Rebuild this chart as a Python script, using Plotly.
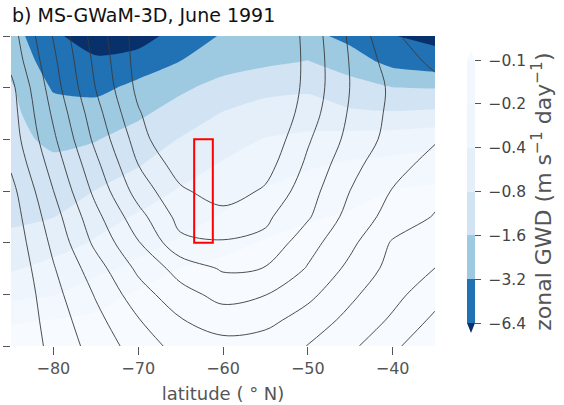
import numpy as np
import plotly.graph_objects as go

# Grid: latitude (deg N) and vertical level index (7 ticks, labels hidden)
lat = [-85, -80, -75, -70, -65, -60, -55, -50, -45, -40, -35]
lev = [0, 0.5, 1, 1.5, 2, 2.5, 3, 3.5, 4, 4.5, 5, 5.5, 6]

# Zonal gravity-wave drag (m s-1 day-1), rows from bottom (lev 0) to top (lev 6)
gwd = [
    [-0.0758, -0.0707, -0.0637, -0.0574, -0.0518, -0.0483, -0.0467, -0.0451, -0.0451, -0.0451, -0.0451],
    [-0.107, -0.098, -0.0871, -0.0732, -0.0637, -0.0574, -0.0536, -0.0500, -0.0500, -0.0500, -0.0500],
    [-0.246, -0.207, -0.137, -0.0901, -0.0758, -0.0660, -0.0616, -0.0574, -0.0555, -0.0536, -0.0536],
    [-0.429, -0.325, -0.238, -0.168, -0.099, -0.0812, -0.0707, -0.0660, -0.0616, -0.0595, -0.0574],
    [-0.696, -0.528, -0.373, -0.255, -0.180, -0.127, -0.0933, -0.0812, -0.0732, -0.0683, -0.0660],
    [-0.888, -0.810, -0.528, -0.373, -0.273, -0.187, -0.146, -0.107, -0.0933, -0.0841, -0.0785],
    [-1.09, -0.951, -0.790, -0.566, -0.373, -0.264, -0.187, -0.152, -0.123, -0.099, -0.0871],
    [-1.13, -1.30, -1.13, -0.828, -0.546, -0.373, -0.283, -0.214, -0.180, -0.162, -0.152],
    [-1.21, -1.97, -1.66, -1.13, -0.773, -0.528, -0.386, -0.325, -0.303, -0.283, -0.246],
    [-1.39, -2.43, -2.26, -1.84, -1.13, -0.773, -0.650, -0.650, -0.721, -0.746, -0.696],
    [-1.49, -3.43, -3.94, -2.60, -1.84, -1.21, -0.919, -0.857, -1.21, -1.58, -1.65],
    [-1.97, -4.53, -5.57, -4.85, -3.15, -2.26, -1.84, -1.55, -2.26, -3.94, -4.85],
    [-2.43, -5.57, -9.70, -8.45, -4.85, -2.99, -2.26, -2.60, -3.94, -6.27, -7.61],
]

# Zonal-mean wind (m s-1), drawn as thin contour lines every 10 m s-1
wind = [
    [-8.8, 2.7, 14.1, 24.4, 33.9, 36.6, 35.0, 29.8, 22.1, 12.3, 1.6],
    [-9.2, 4.5, 17.1, 29.4, 39.4, 44.9, 43.0, 35.5, 27.3, 18.5, 7.9],
    [-9.4, 6.6, 20.9, 35.5, 46.6, 53.2, 50.3, 42.7, 32.0, 23.1, 13.9],
    [-8.5, 9.2, 25.6, 42.1, 54.0, 61.1, 59.8, 49.2, 37.5, 26.7, 19.9],
    [-7.0, 12.3, 32.4, 49.3, 67.6, 69.2, 67.5, 53.9, 42.4, 29.0, 24.5],
    [-5.3, 15.7, 37.1, 56.3, 73.5, 76.3, 71.9, 61.2, 46.3, 36.2, 29.3],
    [-3.1, 19.9, 42.8, 64.2, 78.4, 85.0, 78.6, 64.3, 49.9, 39.5, 33.0],
    [1.3, 24.1, 47.5, 69.9, 85.0, 88.0, 84.0, 67.9, 53.1, 43.1, 36.8],
    [4.6, 28.2, 52.6, 74.5, 94.0, 90.0, 88.2, 71.2, 56.9, 46.4, 40.8],
    [5.9, 31.7, 56.2, 79.0, 92.0, 92.0, 91.8, 74.8, 58.7, 47.5, 42.0],
    [7.3, 35.3, 60.3, 82.5, 89.0, 93.0, 93.7, 76.8, 59.8, 48.0, 43.0],
    [12.7, 37.8, 62.5, 83.8, 90.0, 94.0, 94.6, 77.1, 59.4, 45.2, 38.0],
    [15.6, 40.6, 64.7, 84.3, 90.0, 94.0, 95.0, 76.5, 58.3, 41.0, 36.0],
]

# Colour levels of the drag (log-spaced) and their tick labels
gwd_levels = [-0.1, -0.2, -0.4, -0.8, -1.6, -3.2, -6.4]
gwd_ticktext = ["\u22120.1", "\u22120.2", "\u22120.4", "\u22120.8", "\u22121.6", "\u22123.2", "\u22126.4"]

# Box marking the sampled region
box_lat = [-63.4, -61.2]
box_lev = [2, 4]

xticks = [-80, -70, -60, -50, -40]
xticktext = ["\u221280", "\u221270", "\u221260", "\u221250", "\u221240"]

# Band colours (Blues, from strongest drag to weakest; both ends extended)
band_colors = ["#08306b", "#2171b5", "#9ecae1", "#d2e3f3",
               "#e4eff9", "#eef5fc", "#f2f8fd", "#f7fbff"]


def to_index(v):
    """Map drag onto equally spaced level index: -6.4 -> -6, -0.1 -> 0."""
    return -np.log2(np.abs(np.asarray(v, dtype=float)) / 0.1)


z_idx = to_index(gwd)
tick_idx = list(to_index(gwd_levels))

# Step colorscale for the filled contours: band k sits at k/7 of [-6.5, 0.5]
nb = len(band_colors)
fill_scale = []
for k, c in enumerate(band_colors):
    lo = max(0.0, (k - 0.5) / (nb - 1))
    hi = min(1.0, (k + 0.5) / (nb - 1))
    fill_scale += [[lo, c], [hi, c]]

# Step colorscale for the colour bar (inner six bands only)
bar_scale = []
for j in range(6):
    c = band_colors[j + 1]
    bar_scale += [[j / 6, c], [(j + 1) / 6, c]]

W, H = 564, 405
ml, mr, mt, mb = 11, 129, 36, 59
pw, ph = W - ml - mr, H - mt - mb

cb_x = (467 - ml) / pw
cb_thick = 8
cb_len = 263 / ph
cb_y = 0.498
tri_h = 10 / ph

fig = go.Figure()

fig.add_trace(go.Contour(
    x=lat, y=lev, z=z_idx,
    autocontour=False,
    contours=dict(start=-6, end=0, size=1, coloring="fill", showlines=False),
    colorscale=fill_scale,
    line=dict(width=0, smoothing=0.6),
    showscale=False,
    hoverinfo="skip",
))

fig.add_trace(go.Contour(
    x=lat, y=lev, z=wind,
    autocontour=False,
    contours=dict(start=0, end=80, size=10, coloring="none"),
    line=dict(color="#3a3a3a", width=0.9, smoothing=1.0),
    showscale=False,
    hoverinfo="skip",
))

# Colour bar carrier (point lies outside the plotted range)
fig.add_trace(go.Scatter(
    x=[-200], y=[-50], mode="markers",
    marker=dict(
        color=[-3], cmin=-6, cmax=0, colorscale=bar_scale, size=1,
        showscale=True,
        colorbar=dict(
            x=cb_x, xanchor="left", xpad=0, ypad=0,
            y=cb_y, yanchor="middle", len=cb_len, lenmode="fraction",
            thickness=cb_thick, thicknessmode="pixels", outlinewidth=0,
            tickvals=tick_idx, ticktext=[" " + t for t in gwd_ticktext],
            ticks="outside", ticklen=6, tickwidth=1.2, tickcolor="#555555",
            tickfont=dict(family="DejaVu Sans", size=15.5, color="#444444"),
            title=dict(text="zonal GWD (m s<sup>\u22121</sup> day<sup>\u22121</sup>)",
                       side="right",
                       font=dict(family="DejaVu Sans", size=22, color="#555555")),
        ),
    ),
    hoverinfo="skip", showlegend=False,
))

# Extension triangles at both ends of the colour bar
x0b, x1b = cb_x, cb_x + cb_thick / pw
xm = 0.5 * (x0b + x1b)
yb = cb_y - cb_len / 2
yt = cb_y + cb_len / 2
shapes = [
    dict(type="path", xref="paper", yref="paper",
         path=f"M {x0b},{yb} L {x1b},{yb} L {xm},{yb - tri_h} Z",
         fillcolor=band_colors[0], line=dict(width=0)),
    dict(type="path", xref="paper", yref="paper",
         path=f"M {x0b},{yt} L {x1b},{yt} L {xm},{yt + tri_h} Z",
         fillcolor=band_colors[-1], line=dict(width=0)),
    dict(type="rect", xref="x", yref="y",
         x0=box_lat[0], x1=box_lat[1], y0=box_lev[0], y1=box_lev[1],
         line=dict(color="#ff0000", width=2), fillcolor="rgba(0,0,0,0)"),
]

fig.update_layout(
    width=W, height=H,
    margin=dict(l=ml, r=mr, t=mt, b=mb, autoexpand=False),
    paper_bgcolor="white", plot_bgcolor="white",
    font=dict(family="DejaVu Sans", color="#555555"),
    title=dict(text="b) MS-GWaM-3D, June 1991", xref="container", x=12 / W,
               xanchor="left", yref="container", y=1 - 15 / H, yanchor="middle",
               font=dict(family="DejaVu Sans", size=19, color="#111111")),
    shapes=shapes,
    showlegend=False,
)

fig.update_xaxes(
    range=[-85, -35], tickvals=xticks, ticktext=xticktext,
    ticks="outside", ticklen=8, tickwidth=1.2, tickcolor="#555555",
    tickfont=dict(family="DejaVu Sans", size=16, color="#555555"),
    showgrid=False, zeroline=False, showline=False,
    title=dict(text="latitude ( \u00b0 N)", standoff=10,
               font=dict(family="DejaVu Sans", size=18, color="#555555")),
)
fig.update_yaxes(
    range=[0, 6], tickvals=[0, 1, 2, 3, 4, 5, 6], showticklabels=False,
    ticks="outside", ticklen=7, tickwidth=1.2, tickcolor="#555555",
    showgrid=False, zeroline=False, showline=False,
)

fig.write_html("out.html")
